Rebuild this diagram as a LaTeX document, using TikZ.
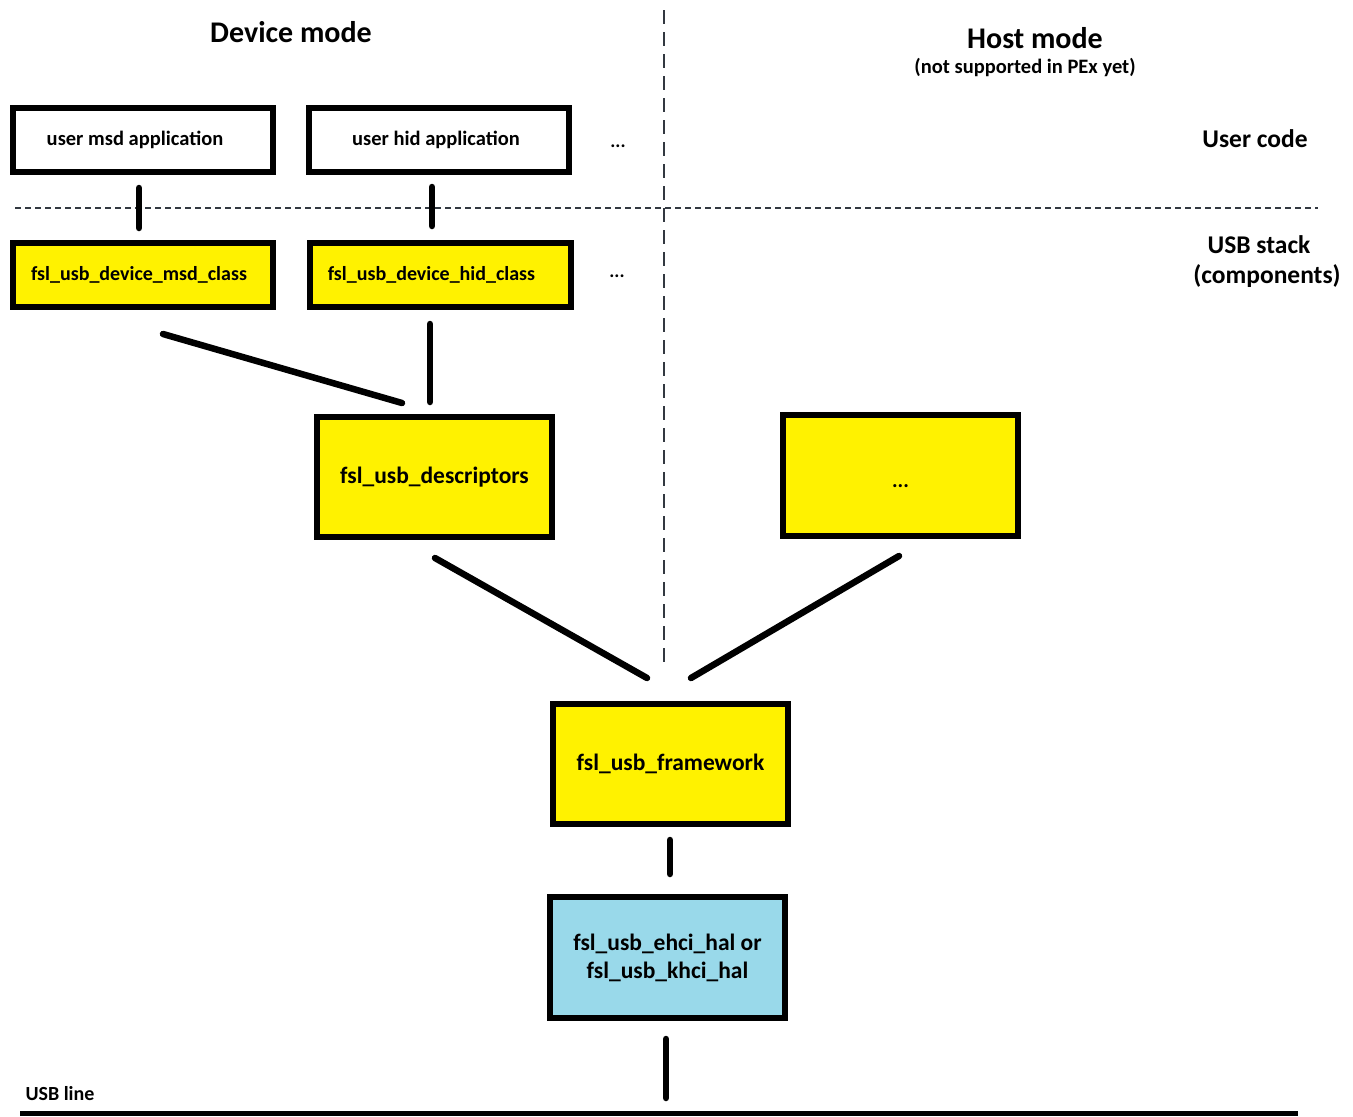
\documentclass[tikz,border=0pt]{standalone}
\usepackage{fontspec}
\setmainfont{Carlito}
\definecolor{pyellow}{RGB}{255,242,0}
\definecolor{pblue}{RGB}{153,217,234}
\definecolor{dgray}{RGB}{50,56,64}
\begin{document}
\begin{tikzpicture}[x=1pt,y=-1pt,
  box/.style={draw=black,line width=6pt,inner sep=0pt,font=\bfseries\fontsize{20.5}{24}\selectfont,align=center},
  smallbox/.style={box,minimum width=260pt,minimum height=64pt},
  bigbox/.style={box,minimum width=235pt,minimum height=120pt,font=\bfseries\fontsize{23.5}{28}\selectfont},
  conn/.style={line width=6.5pt,line cap=round},
  lbl/.style={inner sep=0pt,font=\bfseries\fontsize{#1}{#1}\selectfont},
  lbl/.default=19
]
\useasboundingbox (0,0) rectangle (1353,1117);
% separators
\draw[dgray,line width=1.6pt,dash pattern=on 6pt off 4pt] (15,208) -- (1318,208);
\draw[dgray,line width=2pt,dash pattern=on 14pt off 8pt] (664,10) -- (664,668);
% nodes
\node[smallbox,fill=white] (msdapp) at (143,140) {user msd application\hspace*{16pt}};
\node[smallbox,fill=white] (hidapp) at (439,140) {user hid application\hspace*{6pt}};
\node[smallbox,fill=pyellow,font=\bfseries\fontsize{20}{24}\selectfont] (msdclass) at (143,275) {fsl\_usb\_device\_msd\_class\hspace*{8pt}};
\node[smallbox,fill=pyellow,minimum width=261pt,font=\bfseries\fontsize{20}{24}\selectfont] (hidclass) at (440.5,275) {fsl\_usb\_device\_hid\_class\hspace*{18pt}};
\node[bigbox,fill=pyellow] (desc) at (434.5,477) {fsl\_usb\_descriptors};
\node[bigbox,fill=pyellow,minimum height=121pt] (dots) at (900.5,475.5) {};
\node[lbl=21] (dotstext) at (900.5,486) {...};
\node[bigbox,fill=pyellow] (fw) at (670.5,764) {fsl\_usb\_framework};
\node[bigbox,fill=pblue,minimum height=121pt] (hal) at (667.5,957.5) {fsl\_usb\_ehci\_hal or\\fsl\_usb\_khci\_hal};
% labels
\node[lbl=30] (devmode) at (291,32) {Device mode};
\node[lbl=30] (hostmode) at (1035,38) {Host mode};
\node[lbl=20.5] (notsup) at (1025,68) {(not supported in PEx yet)};
\node[lbl=25.5] (usercode) at (1255,139) {User code};
\node[lbl=25.5,align=center,font=\bfseries\fontsize{25.5}{30}\selectfont] (usbstack) at (1259,262) {USB stack\\\hspace*{16pt}(components)};
\node[lbl=19] (dots1) at (618,146) {...};
\node[lbl=19] (dots2) at (617,276) {...};
\node[lbl=20] (usbline) at (60,1094) {USB line};
% usb line
\coordinate (usbL) at (20,1113);
\coordinate (usbR) at (1298,1113);
\coordinate (usbtap) at (666,1113);
\draw[line width=5pt] (usbL) -- (usbR);
% connectors
\draw[conn] ([shift={(-4,13)}]msdapp.south) -- ([shift={(-4,-12)}]msdclass.north);
\draw[conn] ([shift={(-7,12)}]hidapp.south) -- ([shift={(-8.5,-14)}]hidclass.north);
\draw[conn] ([shift={(20,24)}]msdclass.south) -- ([shift={(-32.5,-11)}]desc.north);
\draw[conn] ([shift={(-10.5,14)}]hidclass.south) -- ([shift={(-4.5,-12)}]desc.north);
\draw[conn] ([shift={(0.5,18)}]desc.south) -- ([shift={(-23.5,-23)}]fw.north);
\draw[conn] ([shift={(-1.5,17)}]dots.south) -- ([shift={(20.5,-23)}]fw.north);
\draw[conn] ([shift={(-0.5,13)}]fw.south) -- ([shift={(2.5,-20)}]hal.north);
\draw[conn] ([shift={(-1.5,18)}]hal.south) -- ([shift={(0,-15)}]usbtap);
\end{tikzpicture}
\end{document}
